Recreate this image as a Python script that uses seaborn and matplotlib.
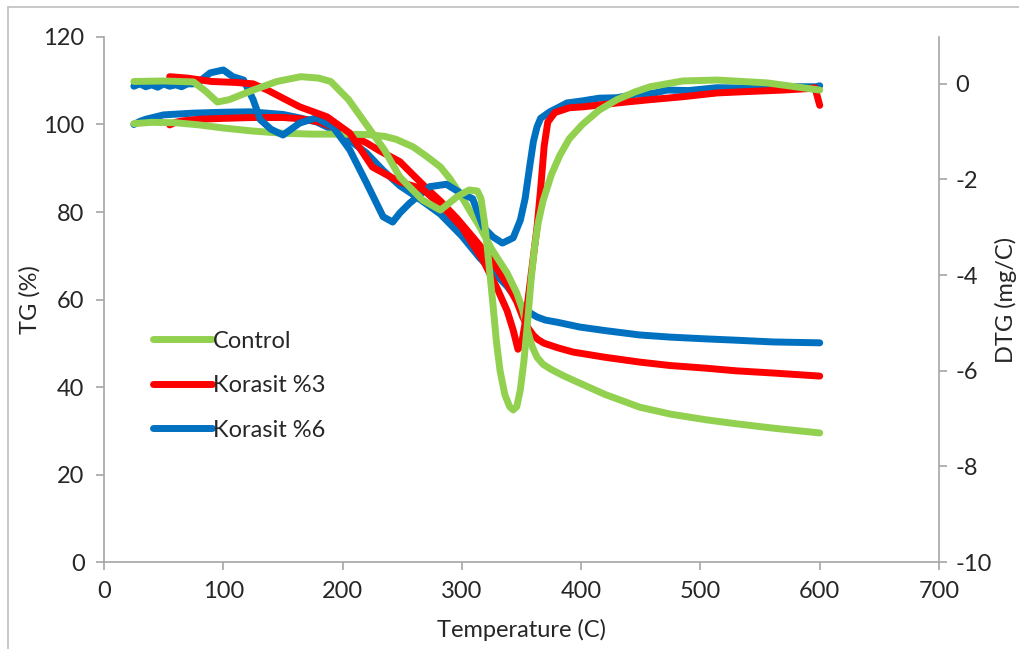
import matplotlib
matplotlib.use("Agg")
import matplotlib.pyplot as plt
from matplotlib.lines import Line2D
import pandas as pd
import seaborn as sns

samples = ["Control", "Korasit %3", "Korasit %6"]
colors = {"Control": "#92D050", "Korasit %3": "#FF0000", "Korasit %6": "#0070C0"}
draw_order = ["Korasit %6", "Korasit %3", "Control"]

x_ticks = [0, 100, 200, 300, 400, 500, 600, 700]
tg_ticks = [0, 20, 40, 60, 80, 100, 120]
dtg_ticks = [-10, -8, -6, -4, -2, 0]

# TG (%) curves, left axis
control_tg_t = [25, 40, 60, 80, 100, 125, 150, 175, 200, 220, 235, 245, 259, 270, 282, 290, 298,
                306, 315, 325, 338, 346, 351, 355, 359, 363, 368, 375, 385, 393, 420, 449, 475,
                505, 530, 561, 600]
control_tg = [100.2, 100.5, 100.4, 99.9, 99.2, 98.5, 98.0, 97.8, 97.8, 97.7, 97.3, 96.6, 94.9,
              92.8, 90.3, 87.6, 84.3, 80.6, 76.6, 71.5, 66.0, 61.5, 57.6, 53.0, 49.2, 46.8, 45.2,
              44.0, 42.6, 41.6, 38.3, 35.4, 33.8, 32.5, 31.6, 30.6, 29.5]

k3_tg_t = [55, 60, 65, 80, 100, 125, 150, 165, 180, 192, 205, 220, 231, 248, 259, 272, 282, 296,
           310, 323, 338, 346, 351, 356, 360, 364, 369, 380, 393, 420, 449, 475, 505, 530, 561, 600]
k3_tg = [99.9, 100.5, 100.8, 101.2, 101.4, 101.6, 101.6, 101.3, 100.6, 99.4, 97.8, 95.8, 94.0,
         91.5, 88.5, 85.0, 82.5, 78.5, 74.0, 69.7, 63.5, 59.5, 56.0, 53.3, 51.8, 50.8, 50.0, 49.0,
         48.0, 46.8, 45.7, 44.9, 44.3, 43.7, 43.2, 42.5]

k6_tg_t = [25, 30, 35, 50, 75, 100, 122, 150, 164, 178, 198, 220, 234, 248, 259, 272, 282, 300,
           315, 338, 351, 358, 363, 370, 380, 399, 420, 449, 475, 505, 530, 561, 600]
k6_tg = [100.0, 100.7, 101.2, 102.2, 102.6, 102.8, 102.9, 102.3, 101.5, 100.6, 98.0, 93.5, 89.5,
         86.0, 84.0, 81.5, 79.5, 74.5, 69.5, 63.0, 58.3, 56.8, 56.0, 55.3, 54.8, 53.7, 52.9, 51.9,
         51.4, 51.0, 50.7, 50.3, 50.1]

# DTG (mg/C) curves, right axis
control_dtg_t = [25, 50, 75, 85, 95, 105, 125, 145, 165, 180, 190, 205, 223, 235, 248, 267, 282,
                 296, 306, 313, 316, 319, 322, 326, 329, 332, 336, 340, 343, 346, 349, 352, 355,
                 358, 361, 364, 368, 375, 382, 390, 401, 415, 430, 445, 458, 485, 514, 556, 600]
control_dtg = [0.05, 0.06, 0.04, -0.15, -0.38, -0.33, -0.13, 0.05, 0.15, 0.12, 0.05, -0.33, -0.96,
               -1.38, -1.95, -2.43, -2.64, -2.36, -2.22, -2.24, -2.4, -2.9, -3.6, -4.6, -5.4,
               -6.0, -6.5, -6.75, -6.82, -6.75, -6.4, -5.8, -5.0, -4.1, -3.4, -2.9, -2.45, -1.9,
               -1.5, -1.15, -0.85, -0.55, -0.33, -0.17, -0.06, 0.06, 0.08, 0.02, -0.13]

k3_dtg_t = [55, 70, 90, 110, 125, 137, 150, 164, 187, 206, 225, 248, 267, 285, 300, 318, 330, 338,
            343, 347, 350, 353, 357, 360, 363, 366, 369, 372, 378, 390, 402, 430, 458, 485, 514,
            540, 569, 590, 596, 600]
k3_dtg = [0.15, 0.12, 0.05, 0.03, 0.0, -0.13, -0.3, -0.48, -0.69, -1.03, -1.74, -2.05, -2.2, -2.6,
          -3.0, -3.7, -4.3, -4.75, -5.15, -5.55, -5.45, -5.0, -4.2, -3.6, -3.0, -2.2, -1.3, -0.8,
          -0.6, -0.5, -0.48, -0.4, -0.33, -0.27, -0.19, -0.16, -0.13, -0.1, -0.08, -0.45]

k6_dtg_t = [25, 30, 35, 40, 45, 50, 55, 60, 65, 70, 75, 80, 89, 100, 108, 117, 125, 131, 140, 150,
            164, 178, 192, 206, 220, 234, 242, 248, 256, 273, 287, 300, 309, 318, 326, 334, 343,
            349, 353, 357, 360, 363, 366, 374, 382, 388, 400, 415, 430, 445, 460, 472, 490, 514,
            540, 569, 597, 600]
k6_dtg = [-0.05, 0.0, -0.06, -0.02, -0.07, 0.0, -0.05, -0.02, -0.06, 0.0, 0.0, 0.05, 0.23, 0.29,
          0.15, 0.08, -0.33, -0.75, -0.95, -1.07, -0.82, -0.71, -0.9, -1.38, -2.07, -2.78, -2.89,
          -2.7, -2.5, -2.15, -2.1, -2.3, -2.4, -3.0, -3.2, -3.33, -3.22, -2.85, -2.4, -1.7, -1.2,
          -0.9, -0.72, -0.58, -0.48, -0.4, -0.36, -0.3, -0.29, -0.22, -0.2, -0.13, -0.14, -0.08,
          -0.09, -0.06, -0.06, -0.04]


def long_df(curves):
    frames = [pd.DataFrame({"temp": t, "value": v, "sample": s}) for s, (t, v) in curves.items()]
    return pd.concat(frames, ignore_index=True)


tg_df = long_df({"Control": (control_tg_t, control_tg),
                 "Korasit %3": (k3_tg_t, k3_tg),
                 "Korasit %6": (k6_tg_t, k6_tg)})
dtg_df = long_df({"Control": (control_dtg_t, control_dtg),
                  "Korasit %3": (k3_dtg_t, k3_dtg),
                  "Korasit %6": (k6_dtg_t, k6_dtg)})

sns.set_style("white")
plt.rcParams["font.family"] = ["Lato", "DejaVu Sans"]
plt.rcParams["axes.unicode_minus"] = False

axis_gray = "#A6A6A6"
text_col = "#262626"
fs = 17
lw = 5

fig = plt.figure(figsize=(10.2, 6.49), dpi=100)
ax = fig.add_axes([0.102, 0.134, 0.8186, 0.809])
ax2 = ax.twinx()

sns.lineplot(data=tg_df, x="temp", y="value", hue="sample", hue_order=draw_order,
             palette=colors, sort=False, estimator=None, linewidth=lw, legend=False, ax=ax)
sns.lineplot(data=dtg_df, x="temp", y="value", hue="sample", hue_order=draw_order,
             palette=colors, sort=False, estimator=None, linewidth=lw, legend=False, ax=ax2)
for a in (ax, ax2):
    for ln in a.get_lines():
        ln.set_solid_capstyle("round")
        ln.set_solid_joinstyle("round")

ax.set_xlim(0, 700)
ax.set_ylim(0, 120)
ax2.set_ylim(-10, 0.98)
ax.set_xticks(x_ticks)
ax.set_yticks(tg_ticks)
ax2.set_yticks(dtg_ticks)

ax.set_xlabel("Temperature (C)", fontsize=fs, color=text_col, labelpad=12)
ax.set_ylabel("TG (%)", fontsize=fs, color=text_col, labelpad=2)
ax2.set_ylabel("DTG (mg/C)", fontsize=fs, color=text_col, labelpad=2)

for side in ["top", "right"]:
    ax.spines[side].set_visible(False)
for side in ["top", "left", "bottom"]:
    ax2.spines[side].set_visible(False)
for sp in [ax.spines["left"], ax.spines["bottom"], ax2.spines["right"]]:
    sp.set_color(axis_gray)
    sp.set_linewidth(1.2)

ax.tick_params(axis="both", direction="out", length=6, width=1.2, color=axis_gray,
               labelsize=fs, labelcolor=text_col, left=True, bottom=True, pad=8)
ax2.tick_params(axis="y", direction="out", length=6, width=1.2, color=axis_gray,
                labelsize=fs, labelcolor=text_col, right=True, pad=6)

handles = [Line2D([0], [0], color=colors[s], linewidth=lw, solid_capstyle="round") for s in samples]
ax.legend(handles, samples, loc="center left", bbox_to_anchor=(0.044, 0.336), frameon=False,
          fontsize=fs, handlelength=2.5, handletextpad=0.05, labelspacing=1.0, borderpad=0,
          labelcolor=text_col)

# page border of the source document
fig.add_artist(Line2D([8 / 1020, 8 / 1020], [0, 1 - 7 / 649], color="#BFBFBF", linewidth=1.2,
                      transform=fig.transFigure))
fig.add_artist(Line2D([8 / 1020, 1], [1 - 7 / 649, 1 - 7 / 649], color="#BFBFBF", linewidth=1.2,
                      transform=fig.transFigure))

fig.savefig("out.png", dpi=100)
